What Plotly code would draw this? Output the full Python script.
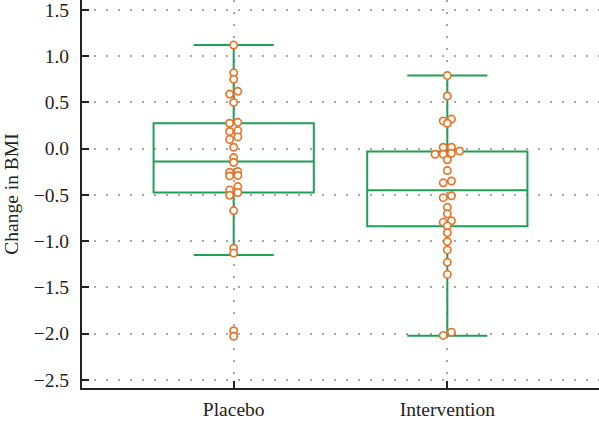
import numpy as np
import plotly.graph_objects as go

# ---- data ----
groups = ["Placebo", "Intervention"]

placebo = [1.12, 0.82, 0.75, 0.62, 0.59, 0.50, 0.285, 0.275, 0.195, 0.185,
           0.127, 0.10, 0.015, -0.097, -0.15, -0.248, -0.255, -0.29, -0.295,
           -0.41, -0.446, -0.475, -0.505, -0.67, -1.077, -1.13, -1.97, -2.03]

intervention = [0.79, 0.57, 0.32, 0.30, 0.275, 0.015, 0.015, -0.025, -0.05,
                -0.06, -0.06, -0.12, -0.237, -0.35, -0.37, -0.51, -0.53,
                -0.635, -0.705, -0.78, -0.795, -0.835, -0.91, -1.005, -1.095,
                -1.23, -1.36, -1.985, -2.02]

q1 = [-0.475, -0.84]
median = [-0.14, -0.45]
q3 = [0.275, -0.03]
lower_whisker = [-1.15, -2.025]
upper_whisker = [1.12, 0.79]

y_ticks = [1.5, 1.0, 0.5, 0.0, -0.5, -1.0, -1.5, -2.0, -2.5]

# ---- style / geometry ----
W, H = 599, 434
ML, MR, MT, MB = 82, 0, 0, 46
XR = [-0.71, 1.71]
YR = [-2.589, 1.608]
px_per_x = (W - ML - MR) / (XR[1] - XR[0])
px_per_y = (H - MT - MB) / (YR[1] - YR[0])
GREEN = "#1f9f57"
ORANGE = "#e8742a"
DOT_PX = 8.2          # horizontal spacing between neighbouring dots
ROW_PX = 3.4          # values closer than this (in px) share a row


def swarm_offsets(values):
    """Centered-row dot layout: returns x offsets (data units) for each value."""
    vals = np.asarray(values, dtype=float)
    order = np.argsort(-vals)
    offs = np.zeros(len(vals))
    rows, cur = [], []
    for idx in order:
        if cur and (vals[cur[0]] - vals[idx]) * px_per_y >= ROW_PX:
            rows.append(cur)
            cur = []
        cur.append(idx)
    if cur:
        rows.append(cur)
    for row in rows:
        row_sorted = sorted(row, key=lambda i: vals[i])
        n = len(row_sorted)
        for k, i in enumerate(row_sorted):
            offs[i] = (k - (n - 1) / 2) * DOT_PX / px_per_x
    return offs


fig = go.Figure()

fig.add_trace(go.Box(
    x=[0, 1], q1=q1, median=median, q3=q3,
    lowerfence=lower_whisker, upperfence=upper_whisker,
    width=0.75, whiskerwidth=0.5, boxpoints=False,
    line=dict(color=GREEN, width=2), fillcolor="rgba(0,0,0,0)",
    hoverinfo="skip", showlegend=False,
))

for gi, vals in enumerate([placebo, intervention]):
    xs = gi + swarm_offsets(vals)
    fig.add_trace(go.Scatter(
        x=xs, y=vals, mode="markers", showlegend=False,
        marker=dict(symbol="circle", size=7.3, color="white",
                    line=dict(color=ORANGE, width=1.7)),
    ))

FONT = "Liberation Serif"
FS = 19.5
grid = dict(showgrid=True, gridcolor="#a8a8a8", gridwidth=1.5, griddash="1.5px,10.5px")

fig.update_layout(
    width=W, height=H,
    margin=dict(l=ML, r=MR, t=MT, b=MB, pad=0, autoexpand=False),
    paper_bgcolor="white", plot_bgcolor="white",
    font=dict(family=FONT, size=FS, color="#222222"),
    xaxis=dict(range=XR, tickmode="array", tickvals=[0, 1], ticktext=groups,
               ticks="inside", ticklen=7, tickwidth=2, tickcolor="#222222",
               showline=True, linecolor="#222222", linewidth=2, mirror=False,
               zeroline=False, tickfont=dict(size=FS), automargin=False,
               ticklabelstandoff=3, ticklabeloverflow="allow", **grid),
    yaxis=dict(range=YR, tickmode="array", tickvals=y_ticks,
               ticktext=[f"{v:.1f}".replace("-", "\u2212") for v in y_ticks],
               ticks="inside", ticklen=7, tickwidth=2, tickcolor="#222222",
               showline=True, linecolor="#222222", linewidth=2, mirror=False,
               zeroline=False, tickfont=dict(size=FS), ticklabelstandoff=7,
               automargin=False, ticklabeloverflow="allow",
               title=dict(text="Change in BMI", font=dict(size=FS), standoff=10),
               **grid),
)

fig.write_html("out.html", config={"displayModeBar": False},
               post_script="document.body.style.margin='0';")
